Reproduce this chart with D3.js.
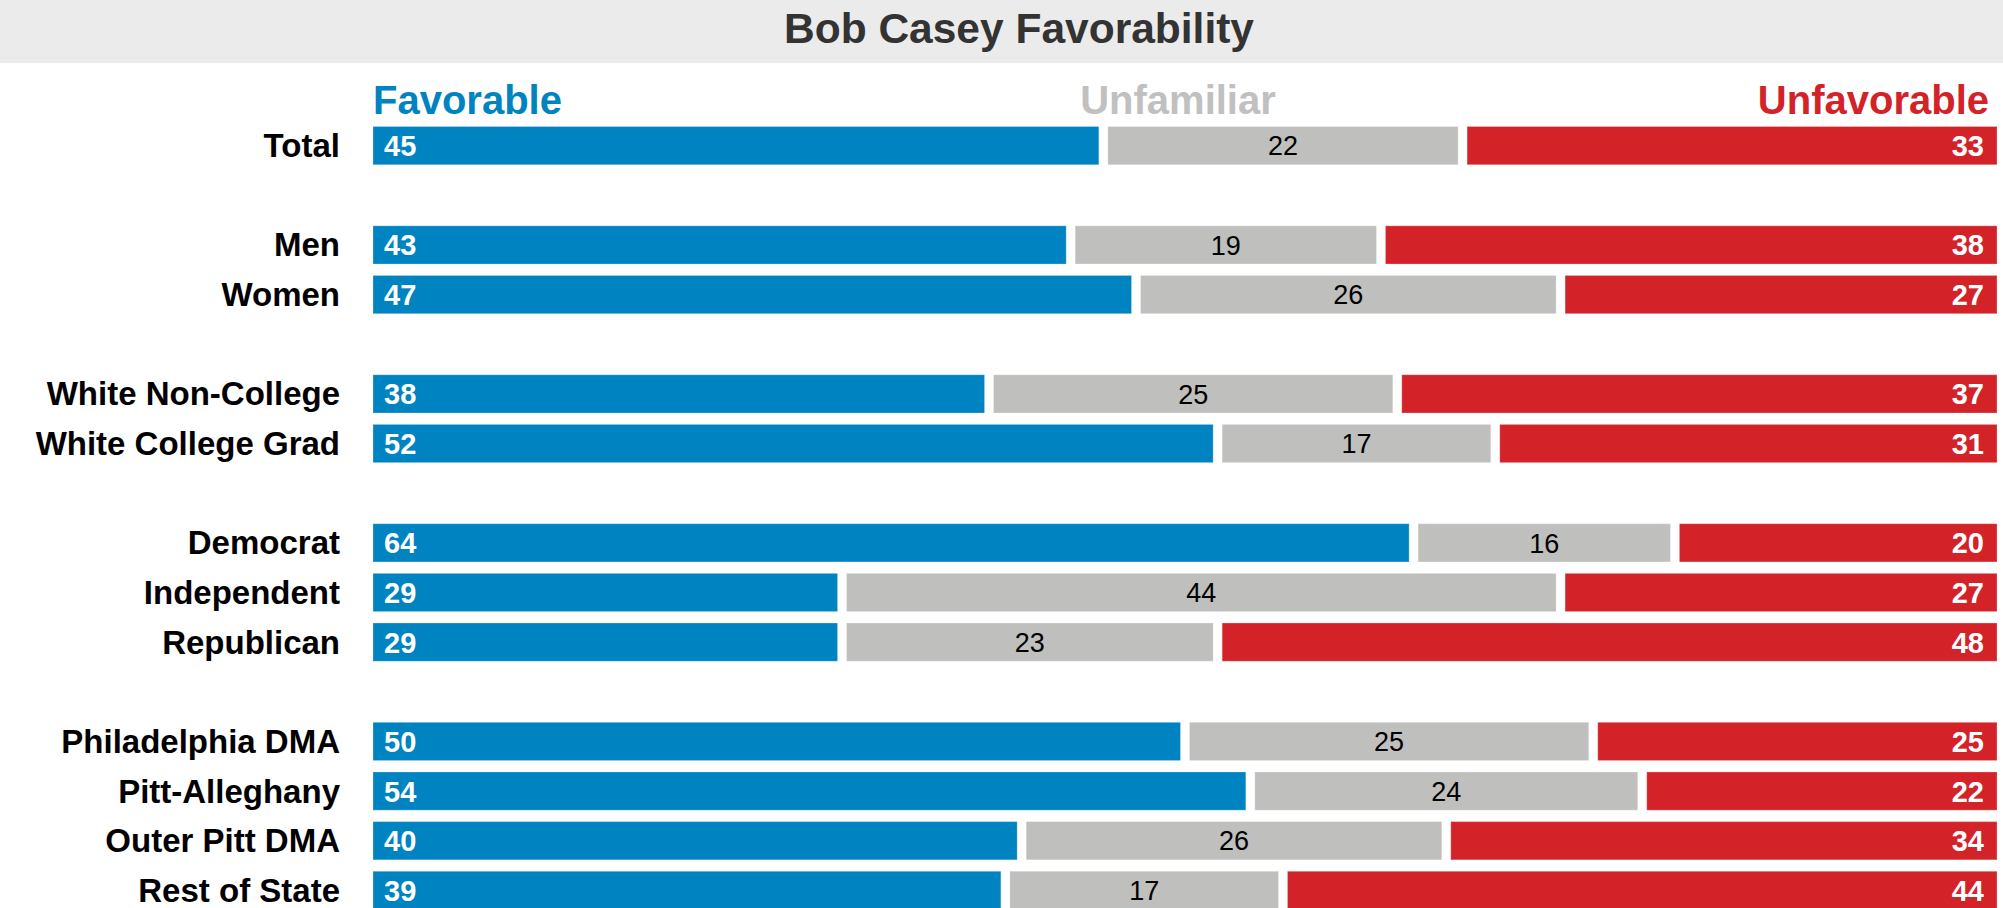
<!DOCTYPE html>
<html>
<head>
<meta charset="utf-8">
<script src="https://cdn.jsdelivr.net/npm/d3@7"></script>
<style>
  body { margin: 0; background: #fff; }
  text { font-family: Arial, "Liberation Sans", sans-serif; }
</style>
</head>
<body>
<div id="chart"></div>
<script>
// row keys; "gapN" rows are the empty spaces between groups
const rows = ['Total','gap1','Men','Women','gap2','White Non-College','White College Grad','gap3',
    'Democrat','Independent','Republican','gap4','Philadelphia DMA','Pitt-Alleghany','Outer Pitt DMA','Rest of State'];
const categories = ['Total','Men','Women','White Non-College','White College Grad',
    'Democrat','Independent','Republican','Philadelphia DMA','Pitt-Alleghany','Outer Pitt DMA','Rest of State'];
const favorable   = [45, 43, 47, 38, 52, 64, 29, 29, 50, 54, 40, 39];
const unfamiliar  = [22, 19, 26, 25, 17, 16, 44, 23, 25, 24, 26, 17];
const unfavorable = [33, 38, 27, 37, 31, 20, 27, 48, 25, 22, 34, 44];
const seriesNames = ['Favorable','Unfamiliar','Unfavorable'];

function segColor(c){ return {Favorable:'#0083c1', Unfamiliar:'#bfbfbd', Unfavorable:'#d42229'}[c]; }

function chart(id){
    const W = 2003, H = 908, gap = 9;

    const svg = d3.select(id).append('svg')
        .attr('width', W).attr('height', H);

    // title band
    svg.append('rect').attr('x', 0).attr('y', 0).attr('width', W).attr('height', 63)
        .attr('fill', '#ebebeb');
    svg.append('text').attr('x', 1019).attr('y', 43)
        .attr('text-anchor', 'middle').attr('font-size', 42.5).attr('font-weight', 'bold')
        .attr('fill', '#333333').text('Bob Casey Favorability');

    // scales
    const x = d3.scaleLinear().domain([0, 100]).range([373 - gap/2, 1997 + gap/2]);
    const y = d3.scaleBand().domain(rows).range([120.8, 915.2])
        .paddingInner(0.23).paddingOuter(0.115);

    // stack the three series for each category
    const data = categories.map(function(c, i){
        const v = [favorable[i], unfamiliar[i], unfavorable[i]];
        let start = 0;
        return {cat: c, segs: v.map(function(val, j){
            const s = {type: seriesNames[j], v: val, x0: start, x1: start + val};
            start += val;
            return s;
        })};
    });

    // legend headings
    svg.append('text').attr('x', x(0) + gap/2).attr('y', 114)
        .attr('font-size', 40).attr('font-weight', 'bold').attr('fill', segColor('Favorable'))
        .text('Favorable');
    svg.append('text').attr('x', 1178).attr('y', 114).attr('text-anchor', 'middle')
        .attr('font-size', 40).attr('font-weight', 'bold').attr('fill', '#c0c0c0')
        .text('Unfamiliar');
    svg.append('text').attr('x', 1989).attr('y', 114).attr('text-anchor', 'end')
        .attr('font-size', 40).attr('font-weight', 'bold').attr('fill', segColor('Unfavorable'))
        .text('Unfavorable');

    const row = svg.selectAll('.row').data(data).enter()
        .append('g').attr('class', 'row')
        .attr('transform', function(d){ return 'translate(0,' + y(d.cat) + ')'; });

    // category labels
    row.append('text').attr('x', 340).attr('y', y.bandwidth()/2)
        .attr('dy', '0.35em').attr('text-anchor', 'end')
        .attr('font-size', 33).attr('font-weight', 'bold').attr('fill', '#000')
        .text(function(d){ return d.cat; });

    const seg = row.selectAll('.seg').data(function(d){ return d.segs; }).enter()
        .append('g').attr('class', 'seg');

    seg.append('rect')
        .attr('x', function(d){ return x(d.x0) + gap/2; })
        .attr('width', function(d){ return x(d.x1) - x(d.x0) - gap; })
        .attr('y', 0).attr('height', y.bandwidth())
        .attr('fill', function(d){ return segColor(d.type); })
        .attr('stroke', '#ffffff').attr('stroke-opacity', 0.25).attr('stroke-width', 1);

    // value labels
    seg.append('text')
        .attr('x', function(d){
            if (d.type === 'Favorable') return x(d.x0) + gap/2 + 11;
            if (d.type === 'Unfavorable') return x(d.x1) - gap/2 - 13;
            return (x(d.x0) + x(d.x1)) / 2;
        })
        .attr('y', y.bandwidth()/2).attr('dy', '0.36em')
        .attr('text-anchor', function(d){
            return d.type === 'Favorable' ? 'start' : d.type === 'Unfavorable' ? 'end' : 'middle';
        })
        .attr('font-size', function(d){ return d.type === 'Unfamiliar' ? 27 : 29; })
        .attr('font-weight', function(d){ return d.type === 'Unfamiliar' ? 'normal' : 'bold'; })
        .attr('fill', function(d){ return d.type === 'Unfamiliar' ? '#000' : '#fff'; })
        .text(function(d){ return d.v; });
}

chart('#chart');
</script>
</body>
</html>
